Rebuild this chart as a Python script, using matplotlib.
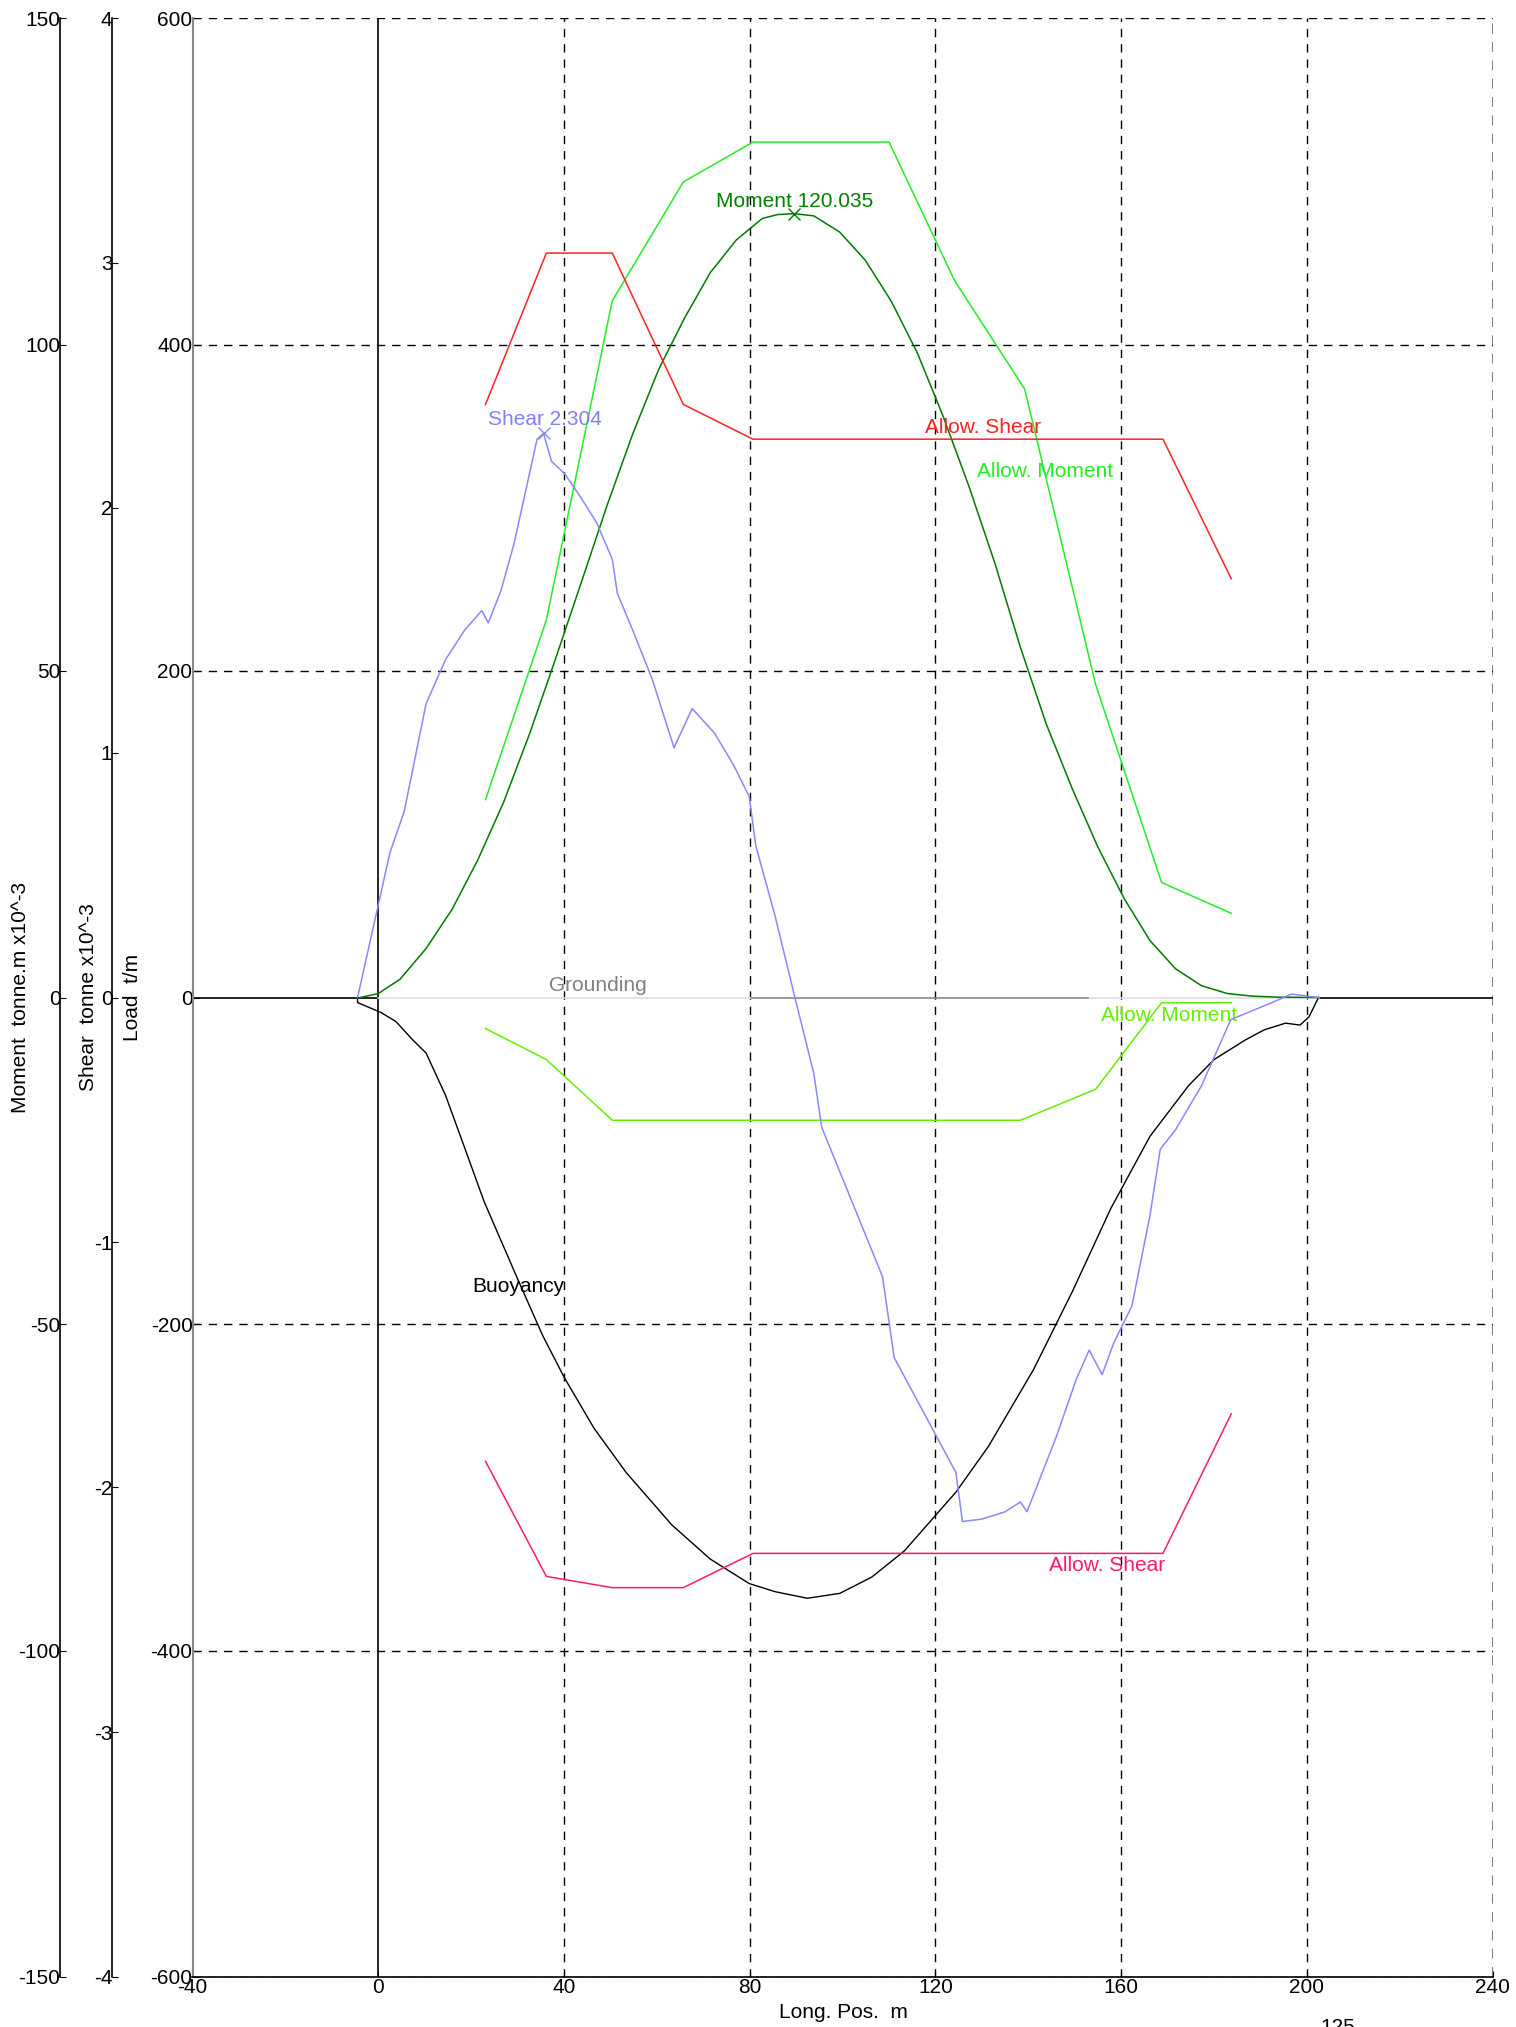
import matplotlib
matplotlib.use("Agg")
import matplotlib.pyplot as plt

plt.rcParams['font.family'] = ['Liberation Sans', 'DejaVu Sans']
plt.rcParams['axes.unicode_minus'] = False
FS = 15

# ---------------- data ----------------
x_ticks = [-40, 0, 40, 80, 120, 160, 200, 240]
load_ticks = [-600, -400, -200, 0, 200, 400, 600]
moment_ticks = [-150, -100, -50, 0, 50, 100, 150]
shear_ticks = [-4, -3, -2, -1, 0, 1, 2, 3, 4]

# Moment (x10^-3 tonne.m)
moment_x = [-3.9, 0.0, 4.7, 10.3, 15.9, 21.4, 27.0, 32.6, 38.1, 43.7, 49.3, 54.8, 60.4,
            66.0, 71.5, 77.1, 82.7, 86.0, 89.6, 93.8, 99.4, 104.9, 110.5, 116.1, 121.6, 127.2,
            132.8, 138.3, 143.9, 149.5, 155.0, 160.6, 166.2, 171.7, 177.3, 182.9, 188.4,
            194.0, 202.5]
moment_y = [0.0, 0.6, 2.8, 7.5, 13.5, 21.0, 29.9, 40.4, 51.7, 63.5, 75.4, 86.3, 96.2,
            104.1, 111.0, 116.0, 119.3, 119.9, 120.035, 119.7, 117.2, 112.9, 106.6, 98.7, 89.1,
            78.3, 66.5, 53.6, 41.8, 31.9, 23.0, 15.2, 8.7, 4.4, 1.8, 0.6, 0.2,
            0.05, 0.0]
moment_peak = (89.6, 120.035)

# Allowable moment (upper / lower)
allow_m_x = [23.1, 36.2, 50.4, 65.7, 80.7, 110.0, 124.1, 139.2, 154.5, 168.7, 183.7]
allow_m_up = [30.3, 57.8, 106.7, 124.9, 131.0, 131.0, 109.8, 93.2, 47.9, 17.6, 12.9]
allow_m_lo_x = [23.1, 36.2, 50.4, 138.3, 154.5, 168.7, 183.7]
allow_m_lo = [-4.75, -9.5, -18.8, -18.8, -14.05, -0.8, -0.8]

# Shear (x10^-3 tonne)
shear_x = [-4.45, 2.5, 5.6, 10.3, 14.5, 18.6, 22.3, 23.7, 26.4, 29.2, 32.0, 34.2, 35.6,
           37.3, 40.1, 43.7, 47.0, 50.4, 51.5, 54.8, 59.0, 63.7, 67.6, 72.4, 76.5, 79.9,
           81.3, 85.5, 89.6, 93.8, 95.5, 108.6, 111.1, 124.4, 125.8, 130.0, 135.0, 138.3,
           139.7, 146.1, 150.3, 153.1, 155.9, 158.4, 162.3, 166.2, 168.4, 171.7, 177.3,
           183.6, 192.2, 196.7, 202.5]
shear_y = [0.0, 0.59, 0.76, 1.20, 1.38, 1.50, 1.58, 1.53, 1.66, 1.85, 2.09, 2.28, 2.304,
           2.19, 2.14, 2.04, 1.94, 1.79, 1.65, 1.50, 1.30, 1.02, 1.18, 1.08, 0.95, 0.82,
           0.62, 0.33, 0.01, -0.31, -0.53, -1.14, -1.47, -1.94, -2.14, -2.13, -2.10, -2.06,
           -2.10, -1.79, -1.56, -1.44, -1.54, -1.41, -1.26, -0.89, -0.62, -0.54, -0.36,
           -0.09, -0.023, 0.014, 0.0]
shear_peak = (35.6, 2.304)

# Allowable shear (upper / lower)
allow_s_x = [23.1, 36.2, 50.4, 65.7, 80.7, 169.0, 183.7]
allow_s_up = [2.422, 3.04, 3.04, 2.422, 2.28, 2.28, 1.71]
allow_s_lo = [-1.894, -2.364, -2.41, -2.41, -2.27, -2.27, -1.70]

# Buoyancy (t/m)
buoy_x = [-4.45, -4.45, 0.6, 3.8, 7.4, 10.3, 14.5, 18.6, 22.8, 29.8, 35.4, 40.1, 46.5,
          53.4, 63.2, 71.5, 79.9, 85.5, 92.4, 99.4, 106.3, 113.3, 124.4, 131.4, 141.1,
          149.5, 157.8, 166.2, 174.5, 180.0, 186.8, 190.8, 195.4, 198.5, 200.4, 202.5]
buoy_y = [0.0, -3.1, -9.2, -14.7, -25.9, -34.0, -60.0, -92.0, -125.0, -171.0, -207.0,
          -233.0, -264.0, -291.0, -323.0, -344.0, -359.0, -364.0, -368.0, -365.0, -355.0,
          -339.0, -303.0, -275.0, -228.0, -180.0, -129.0, -85.0, -54.0, -38.0, -25.9,
          -19.8, -15.7, -16.9, -12.0, 0.0]

# zero/base line segments (load axis)
base_black_x = [[-40, 0], [202.5, 240]]
grounding_light_x = [[0, 80.4], [152.8, 202.5]]
grounding_x = [80.4, 152.8]

# ---------------- figure ----------------
W, H = 1516, 2027
fig = plt.figure(figsize=(W / 100, H / 100), dpi=100)
L, R, B, T = 192.5 / W, 1492.7 / W, 1 - 1977 / H, 1 - 18 / H
ax = fig.add_axes([L, B, R - L, T - B])

ax.set_xlim(-40, 240)
ax.set_ylim(-600, 600)
ax.set_xticks(x_ticks)
ax.set_yticks(load_ticks)
ax.tick_params(axis='both', direction='in', length=4, labelsize=FS, pad=1)
ax.tick_params(axis='y', pad=0)
for s in ['top', 'right']:
    ax.spines[s].set_visible(False)
ax.spines['left'].set_color('#888888')
ax.spines['left'].set_linewidth(1.5)
ax.spines['bottom'].set_linewidth(1.2)

grid_style = dict(color='black', lw=1.0, ls=(0, (6, 5)), zorder=1)
for xv in x_ticks:
    if xv == 0:
        ax.axvline(xv, color='black', lw=1.2, zorder=1)
    elif xv == 240:
        ax.axvline(xv, color='#666666', lw=1.2, ls=(0, (6, 5)), zorder=1)
    else:
        ax.axvline(xv, **grid_style)
for yv in load_ticks:
    if yv != 0:
        ax.axhline(yv, **grid_style)

# base line and grounding
for seg in base_black_x:
    ax.plot(seg, [0, 0], color='black', lw=1.2, zorder=2)
for seg in grounding_light_x:
    ax.plot(seg, [0, 0], color='#dedede', lw=1.2, zorder=2)
ax.plot(grounding_x, [0, 0], color='#8a8a8a', lw=1.2, zorder=2)
ax.text(47.3, 7.1, 'Grounding', color='#808080', fontsize=FS, ha='center', va='center')

# buoyancy
ax.plot(buoy_x, buoy_y, color='black', lw=1.0, zorder=3)
ax.text(30.1, -177.3, 'Buoyancy', color='black', fontsize=FS, ha='center', va='center')

# moment axis
axm = ax.twinx()
axm.set_ylim(-150, 150)
axm.set_yticks(moment_ticks)
for s in ['top', 'right', 'bottom']:
    axm.spines[s].set_visible(False)
axm.spines['left'].set_position(('axes', (60.5 - 192.5) / 1300.2))
axm.spines['left'].set_linewidth(1.2)
axm.yaxis.set_ticks_position('left')
axm.tick_params(axis='y', direction='in', length=4, labelsize=FS, pad=0)

axm.plot(allow_m_x, allow_m_up, color='#22ee22', lw=1.1)
axm.plot(allow_m_lo_x, allow_m_lo, color='#66ee00', lw=1.1)
axm.plot(moment_x, moment_y, color='#007a00', lw=1.1)
axm.plot([moment_peak[0]], [moment_peak[1]], marker='x', ms=9, mew=1.0, color='#007a00')
axm.text(89.6, 121.9, 'Moment 120.035', color='#008000', fontsize=FS, ha='center', va='center')
axm.text(143.6, 80.5, 'Allow. Moment', color='#22ee22', fontsize=FS, ha='center', va='center')
axm.text(170.4, -2.77, 'Allow. Moment', color='#66ee00', fontsize=FS, ha='center', va='center')

# shear axis
axs = ax.twinx()
axs.set_ylim(-4, 4)
axs.set_yticks(shear_ticks)
for s in ['top', 'right', 'bottom']:
    axs.spines[s].set_visible(False)
axs.spines['left'].set_position(('axes', (112.5 - 192.5) / 1300.2))
axs.spines['left'].set_linewidth(1.2)
axs.yaxis.set_ticks_position('left')
axs.tick_params(axis='y', direction='in', length=4, labelsize=FS, pad=0)

axs.plot(allow_s_x, allow_s_up, color='#ff2222', lw=1.1)
axs.plot(allow_s_x, allow_s_lo, color='#ff1a6a', lw=1.1)
axs.plot(shear_x, shear_y, color='#8888ff', lw=1.1)
axs.plot([shear_peak[0]], [shear_peak[1]], marker='x', ms=9, mew=1.0, color='#8888ff')
axs.text(35.9, 2.36, 'Shear 2.304', color='#8080ff', fontsize=FS, ha='center', va='center')
axs.text(130.3, 2.327, 'Allow. Shear', color='#ff2020', fontsize=FS, ha='center', va='center')
axs.text(157.0, -2.32, 'Allow. Shear', color='#ff1a6a', fontsize=FS, ha='center', va='center')

# axis titles
fig.text(21 / W, 1 - 997 / H, 'Moment  tonne.m x10^-3', rotation=90, fontsize=FS,
         ha='center', va='center')
fig.text(88 / W, 1 - 997 / H, 'Shear  tonne x10^-3', rotation=90, fontsize=FS,
         ha='center', va='center')
fig.text(133 / W, 1 - 997 / H, 'Load  t/m', rotation=90, fontsize=FS,
         ha='center', va='center')
fig.text(843 / W, 1 - 2012 / H, 'Long. Pos.  m', fontsize=FS, ha='center', va='center')
fig.text(1338 / W, -6 / H, '125', fontsize=FS, ha='center', va='baseline')

fig.savefig('out.png', dpi=100)
